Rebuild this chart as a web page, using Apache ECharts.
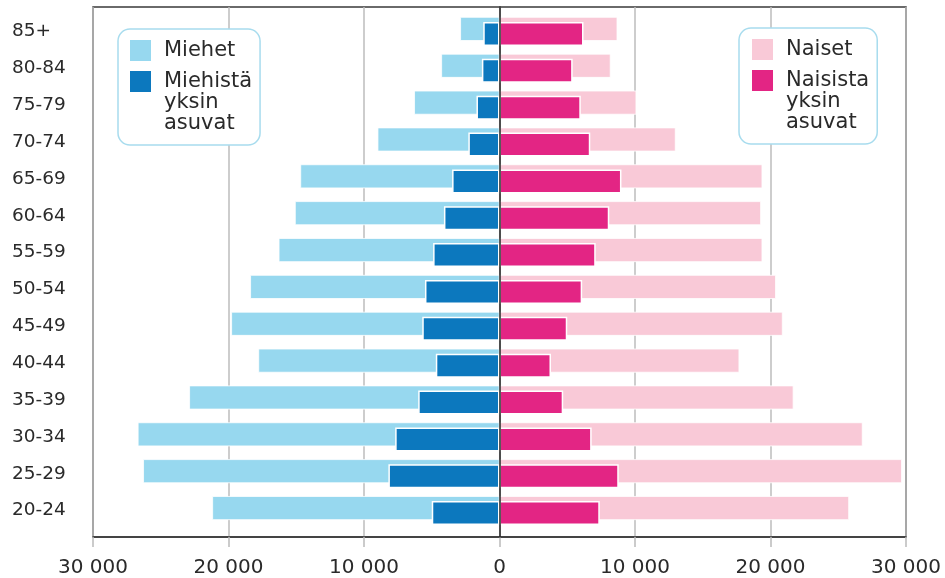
<!DOCTYPE html>
<html>
<head>
<meta charset="utf-8">
<script src="https://cdn.jsdelivr.net/npm/echarts@6/dist/echarts.min.js"></script>
<style>
  html, body { margin: 0; padding: 0; background: #fff; }
  #chart { width: 945px; height: 578px; }
</style>
</head>
<body>
<div id="chart"></div>
<script>
// age groups, bottom to top
const ageGroups = ['20-24', '25-29', '30-34', '35-39', '40-44', '45-49', '50-54',
  '55-59', '60-64', '65-69', '70-74', '75-79', '80-84', '85+']
const menTotal = [21200, 26300, 26700, 22900, 17800, 19800, 18400, 16300, 15100, 14700, 9000, 6300, 4300, 2900]
const menAlone = [5000, 8200, 7700, 6000, 4700, 5700, 5500, 4900, 4100, 3500, 2300, 1700, 1300, 1200]
const womenTotal = [25800, 29700, 26800, 21700, 17700, 20900, 20400, 19400, 19300, 19400, 13000, 10100, 8200, 8700]
const womenAlone = [7400, 8800, 6800, 4700, 3800, 5000, 6100, 7100, 8100, 9000, 6700, 6000, 5400, 6200]

const FONT = 'DejaVu Sans'
const TEXT = '#2a2a2a'

const fmt = (v) => Math.abs(v).toString().replace(/\B(?=(\d{3})+(?!\d))/g, ' ')

// multi-word names wrap one word per line, first line level with the icon
const legendFmt = (n) => n.indexOf(' ') < 0 ? n : '\n\n' + n.replace(/ /g, '\n')

const chart = echarts.init(document.getElementById('chart'))

const legendBase = {
  orient: 'vertical',
  top: 29,
  icon: 'rect',
  itemWidth: 21,
  itemHeight: 21,
  itemGap: -32,
  borderColor: '#a8dcee',
  borderWidth: 1.5,
  borderRadius: 12,
  backgroundColor: '#fff',
  itemStyle: { borderWidth: 0 },
  textStyle: { fontFamily: FONT, fontSize: 21, lineHeight: 21, color: TEXT, padding: [0, 0, 0, 8] },
  formatter: legendFmt,
}

const option = {
  animation: false,
  grid: [
    { left: 93, right: 39, top: 13, bottom: 49 },
    { left: 93, right: 39, top: 7, bottom: 39, show: true, borderColor: '#3a3a3a', borderWidth: 1.5 },
  ],
  legend: [
    Object.assign({}, legendBase, {
      left: 118,
      padding: [0, 8, 11, 12],
      data: ['Miehet', 'Miehistä yksin asuvat'],
    }),
    Object.assign({}, legendBase, {
      left: 739,
      top: 28,
      padding: [0, 8, 11, 13],
      data: ['Naiset', 'Naisista yksin asuvat'],
    }),
  ],
  xAxis: [
    { type: 'value', gridIndex: 0, min: -30000, max: 30000, show: false },
    {
      type: 'value', gridIndex: 1, min: -30000, max: 30000, interval: 10000,
      axisLine: { show: true, lineStyle: { color: '#3a3a3a', width: 1.5 } },
      axisTick: { show: true, length: 10, lineStyle: { color: '#bbb', width: 1.5 } },
      axisLabel: { formatter: fmt, fontFamily: FONT, fontSize: 20, color: TEXT, margin: 21 },
      splitLine: { show: true, lineStyle: { color: '#bdbdbd', width: 1.5 } },
    },
  ],
  yAxis: [
    {
      type: 'category', gridIndex: 0, data: ageGroups,
      axisLine: { show: false }, axisTick: { show: false },
      axisLabel: { align: 'left', margin: 81, fontFamily: FONT, fontSize: 18.5, color: TEXT },
    },
    {
      type: 'value', gridIndex: 1, min: 0, max: 1, z: 5,
      axisLine: { show: true, onZero: true, lineStyle: { color: '#222', width: 1.5 } },
      axisTick: { show: false }, axisLabel: { show: false }, splitLine: { show: false },
    },
  ],
  series: [
    {
      name: 'Miehet', type: 'bar', stack: 'total', barWidth: 24, barGap: '-79%', z: 2,
      itemStyle: { color: '#97d8ef', borderColor: '#fff', borderWidth: 0.8 },
      data: menTotal.map((v) => -v),
    },
    {
      name: 'Miehistä yksin asuvat', type: 'bar', stack: 'alone', barWidth: 24, barGap: '-79%', z: 3,
      itemStyle: { color: '#0c78be', borderColor: '#fff', borderWidth: 1.5 },
      data: menAlone.map((v) => -v),
    },
    {
      name: 'Naiset', type: 'bar', stack: 'total', barWidth: 24, barGap: '-79%', z: 2,
      itemStyle: { color: '#f9c9d7', borderColor: '#fff', borderWidth: 0.8 },
      data: womenTotal,
    },
    {
      name: 'Naisista yksin asuvat', type: 'bar', stack: 'alone', barWidth: 24, barGap: '-79%', z: 3,
      itemStyle: { color: '#e32584', borderColor: '#fff', borderWidth: 1.5 },
      data: womenAlone,
    },
  ],
}

chart.setOption(option)
</script>
</body>
</html>
